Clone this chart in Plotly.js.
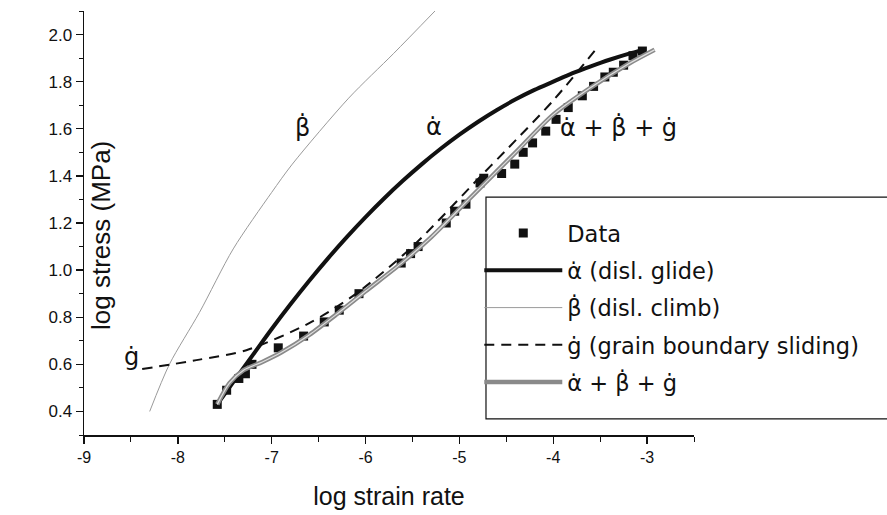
<!DOCTYPE html>
<html>
<head>
<meta charset="utf-8">
<script src="https://cdn.plot.ly/plotly-3.0.1.min.js"></script>
<style>html,body{margin:0;padding:0;background:#fff;}#chart{width:887px;height:515px;}</style>
</head>
<body>
<div id="chart"></div>
<script>
// Measured data (log strain rate, log stress)
const dataX = [-7.58,-7.48,-7.35,-7.28,-7.21,-6.93,-6.66,-6.44,-6.28,-6.07,-5.62,-5.52,-5.44,-5.14,-5.05,-4.93,-4.78,-4.74,-4.55,-4.41,-4.32,-4.22,-4.08,-3.97,-3.84,-3.69,-3.57,-3.45,-3.36,-3.25,-3.15,-3.05];
const dataY = [0.43,0.49,0.54,0.56,0.60,0.67,0.72,0.78,0.83,0.90,1.03,1.07,1.10,1.20,1.25,1.28,1.37,1.39,1.41,1.45,1.50,1.54,1.59,1.64,1.69,1.74,1.78,1.82,1.84,1.87,1.91,1.93];

// alpha-dot (dislocation glide)
const alphaX = [-7.58,-7.4,-7.2,-7.0,-6.8,-6.6,-6.4,-6.2,-6.0,-5.8,-5.6,-5.4,-5.2,-5.0,-4.8,-4.6,-4.4,-4.2,-4.0,-3.8,-3.6,-3.4,-3.2,-3.04];
const alphaY = [0.43,0.53,0.64,0.75,0.855,0.955,1.05,1.14,1.225,1.305,1.38,1.45,1.515,1.575,1.63,1.68,1.725,1.765,1.80,1.835,1.865,1.893,1.918,1.935];

// beta-dot (dislocation climb)
const betaX = [-8.30,-8.09,-7.77,-7.41,-7.0,-6.78,-6.18,-5.7,-5.26];
const betaY = [0.40,0.60,0.82,1.09,1.33,1.45,1.73,1.92,2.10];

// g-dot (grain boundary sliding)
const gX = [-8.38,-7.77,-7.27,-6.60,-6.10,-5.5,-4.77,-4.5,-4.0,-3.54];
const gY = [0.58,0.62,0.66,0.775,0.90,1.10,1.40,1.51,1.72,1.94];

// sum alpha + beta + g
const sumX = [-7.58,-7.45,-7.3,-7.1,-6.9,-6.6,-6.3,-6.0,-5.6,-5.3,-4.9,-4.4,-4.0,-3.6,-3.2,-2.92];
const sumY = [0.43,0.52,0.575,0.61,0.65,0.725,0.815,0.91,1.035,1.14,1.30,1.50,1.66,1.775,1.875,1.935];

const xTickVals = [-9,-8,-7,-6,-5,-4,-3];
const xTickText = ['-9','-8','-7','-6','-5','-4','-3'];
const yTickVals = [0.4,0.6,0.8,1.0,1.2,1.4,1.6,1.8,2.0];
const yTickText = ['0.4','0.6','0.8','1.0','1.2','1.4','1.6','1.8','2.0'];

const legendNames = ['Data','\u03B1\u0307 (disl. glide)','\u03B2\u0307 (disl. climb)','\u0121 (grain boundary sliding)','\u03B1\u0307 + \u03B2\u0307 + \u0121'];
const labelTexts = ['\u03B2\u0307','\u03B1\u0307','\u03B1\u0307 + \u03B2\u0307 + \u0121','\u0121'];
const labelX = [-6.67,-5.27,-3.30,-8.49];
const labelY = [1.607,1.608,1.604,0.631];
const xTitle = 'log strain rate';
const yTitle = 'log stress (MPa)';

const FONT = 'Liberation Sans, Arial, sans-serif';
const GFONT = 'DejaVu Sans, sans-serif';

const traces = [
  {x:dataX, y:dataY, type:'scatter', mode:'markers', name:legendNames[0], legendgroup:'a',
   marker:{symbol:'square', size:9, color:'#111'}},
  {x:alphaX, y:alphaY, type:'scatter', mode:'lines', name:legendNames[1], legendgroup:'b',
   line:{color:'#111', width:4, shape:'spline', smoothing:0.8}},
  {x:betaX, y:betaY, type:'scatter', mode:'lines', name:legendNames[2], legendgroup:'c',
   line:{color:'#9a9a9a', width:1, shape:'spline', smoothing:0.8}},
  {x:gX, y:gY, type:'scatter', mode:'lines', name:legendNames[3], legendgroup:'d',
   line:{color:'#111', width:2, dash:'10px,7px', shape:'spline', smoothing:0.8}},
  {x:sumX, y:sumY, type:'scatter', mode:'lines', name:legendNames[4], legendgroup:'e',
   line:{color:'#8a8a8a', width:4.5, shape:'spline', smoothing:0.8}},
  {x:sumX, y:sumY, type:'scatter', mode:'lines', showlegend:false, hoverinfo:'skip', legendgroup:'e',
   line:{color:'#e0e0e0', width:1.2, shape:'spline', smoothing:0.8}}
];

const annotations = labelTexts.map((t,i)=>({
  x:labelX[i], y:labelY[i], xref:'x', yref:'y', text:t, showarrow:false,
  font:{family:GFONT, size:24, color:'#111'}
}));
annotations.push({x:0.029, y:0.471, xref:'paper', yref:'paper', xanchor:'center', yanchor:'middle',
  text:yTitle, textangle:-90, showarrow:false, font:{family:FONT, size:26, color:'#111'}});

const layout = {
  width:887, height:515,
  margin:{l:84, r:193, t:11, b:80, autoexpand:false},
  paper_bgcolor:'#fff', plot_bgcolor:'#fff',
  font:{family:FONT, color:'#111'},
  showlegend:true,
  xaxis:{range:[-9,-2.5], tickvals:xTickVals, ticktext:xTickText,
    showline:true, linecolor:'#111', linewidth:1.5, mirror:false,
    ticks:'outside', ticklen:7, tickwidth:1.3, tickcolor:'#111',
    minor:{dtick:0.5, tick0:-9, ticks:'outside', ticklen:5, tickwidth:1, tickcolor:'#111', showgrid:false},
    showgrid:false, zeroline:false,
    tickfont:{family:FONT, size:16, color:'#111'},
    title:{text:xTitle, font:{family:FONT, size:25, color:'#111'}, standoff:23}},
  yaxis:{range:[0.3,2.1], tickvals:yTickVals, ticktext:yTickText,
    showline:true, linecolor:'#111', linewidth:1.5, mirror:false,
    ticks:'outside', ticklen:7, tickwidth:1.3, tickcolor:'#111',
    minor:{dtick:0.1, tick0:0.3, ticks:'outside', ticklen:4, tickwidth:1, tickcolor:'#111', showgrid:false},
    showgrid:false, zeroline:false,
    tickfont:{family:FONT, size:17, color:'#111'}},
  legend:{x:0.648, y:0.526, xanchor:'left', yanchor:'top',
    bgcolor:'rgba(255,255,255,0)', borderwidth:0,
    font:{family:GFONT, size:22.5, color:'#111'}, itemwidth:78, tracegroupgap:5},
  shapes:[{type:'rect', xref:'paper', yref:'paper', x0:0.659, x1:1.3295, y0:0.038, y1:0.561,
    line:{color:'#111', width:1.2}, fillcolor:'rgba(0,0,0,0)'}],
  annotations:annotations
};

Plotly.newPlot('chart', traces, layout, {staticPlot:true, displayModeBar:false});
</script>
</body>
</html>
